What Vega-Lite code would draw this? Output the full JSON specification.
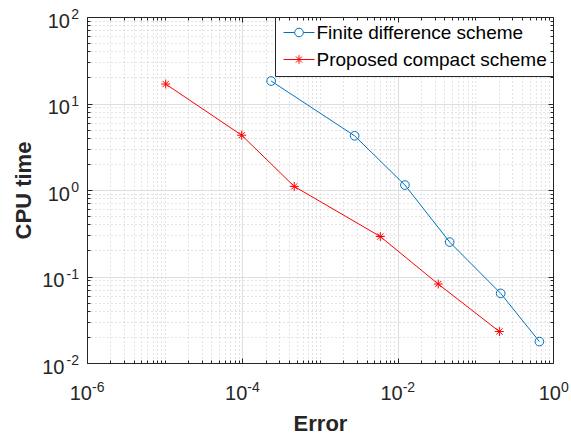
{
  "$schema": "https://vega.github.io/schema/vega-lite/v6.json",
  "autosize": {"type": "none"},
  "padding": {"left": 87, "top": 17, "right": 18, "bottom": 76},
  "width": 466,
  "height": 346,
  "config": {
    "view": {"stroke": null},
    "axis": {"labelFont": "Liberation Sans", "titleFont": "Liberation Sans", "labelColor": "#262626", "titleColor": "#262626", "labelFlush": false, "labelOverlap": false, "labelBound": false, "minExtent": 0, "maxExtent": 400},
    "legend": {"labelFont": "Liberation Sans"}
  },
  "data": {"values": [
    {"scheme": "Finite difference scheme", "error": 0.000235, "cpu": 18.2},
    {"scheme": "Finite difference scheme", "error": 0.00279, "cpu": 4.23},
    {"scheme": "Finite difference scheme", "error": 0.0124, "cpu": 1.14},
    {"scheme": "Finite difference scheme", "error": 0.0467, "cpu": 0.25},
    {"scheme": "Finite difference scheme", "error": 0.212, "cpu": 0.0638},
    {"scheme": "Finite difference scheme", "error": 0.668, "cpu": 0.0177},
    {"scheme": "Proposed compact scheme", "error": 0.0000103, "cpu": 16.8},
    {"scheme": "Proposed compact scheme", "error": 0.000098, "cpu": 4.3},
    {"scheme": "Proposed compact scheme", "error": 0.000466, "cpu": 1.1},
    {"scheme": "Proposed compact scheme", "error": 0.00597, "cpu": 0.29},
    {"scheme": "Proposed compact scheme", "error": 0.0333, "cpu": 0.0818},
    {"scheme": "Proposed compact scheme", "error": 0.204, "cpu": 0.0231}
  ]},
  "resolve": {"axis": {"x": "independent", "y": "independent"}},
  "layer": [
    {
      "mark": {"type": "line", "strokeWidth": 1},
      "encoding": {
        "x": {"field": "error", "type": "quantitative", "scale": {"type": "log", "domain": [0.000001, 1], "nice": false},
          "axis": {"orient": "bottom", "zindex": 0, "title": "Error", "titleFontSize": 22, "titleFontWeight": "bold", "titleBaseline": "alphabetic", "titlePadding": 67,
            "labels": false, "domain": true, "domainColor": "#262626", "domainWidth": 1,
            "values": [0.000001,0.000002,0.000003,0.000004,0.000005,0.000006,0.000007,0.000008,0.000009,0.00001,0.00002,0.00003,0.00004,0.00005,0.00006,0.00007,0.00008,0.00009,0.0001,0.0002,0.0003,0.0004,0.0005,0.0006,0.0007,0.0008,0.0009,0.001,0.002,0.003,0.004,0.005,0.006,0.007,0.008,0.009,0.01,0.02,0.03,0.04,0.05,0.06,0.07,0.08,0.09,0.1,0.2,0.3,0.4,0.5,0.6,0.7,0.8,0.9,1],
            "grid": true, "gridWidth": 1,
            "gridColor": {"condition": {"test": "abs(log(datum.value)/LN10/2 - round(log(datum.value)/LN10/2)) < 0.001", "value": "#dedede"}, "value": "#c9c9c9"},
            "gridDash": {"condition": {"test": "abs(log(datum.value)/LN10/2 - round(log(datum.value)/LN10/2)) < 0.001", "value": []}, "value": [1, 3]},
            "ticks": true, "tickColor": "#262626", "tickWidth": 1,
            "tickSize": {"condition": {"test": "abs(log(datum.value)/LN10/2 - round(log(datum.value)/LN10/2)) < 0.001", "value": -5}, "value": -3}}},
        "y": {"field": "cpu", "type": "quantitative", "scale": {"type": "log", "domain": [0.01, 100], "nice": false},
          "axis": {"orient": "left", "zindex": 0, "title": "CPU time", "titleFontSize": 22, "titleFontWeight": "bold", "titleBaseline": "alphabetic", "titlePadding": 56.5,
            "labels": false, "domain": true, "domainColor": "#262626", "domainWidth": 1,
            "values": [0.01,0.02,0.03,0.04,0.05,0.06,0.07,0.08,0.09,0.1,0.2,0.3,0.4,0.5,0.6,0.7,0.8,0.9,1,2,3,4,5,6,7,8,9,10,20,30,40,50,60,70,80,90,100],
            "grid": true, "gridWidth": 1,
            "gridColor": {"condition": {"test": "abs(log(datum.value)/LN10 - round(log(datum.value)/LN10)) < 0.001", "value": "#dedede"}, "value": "#c9c9c9"},
            "gridDash": {"condition": {"test": "abs(log(datum.value)/LN10 - round(log(datum.value)/LN10)) < 0.001", "value": []}, "value": [1, 3]},
            "ticks": true, "tickColor": "#262626", "tickWidth": 1,
            "tickSize": {"condition": {"test": "abs(log(datum.value)/LN10 - round(log(datum.value)/LN10)) < 0.001", "value": -5}, "value": -3}}},
        "color": {"field": "scheme", "type": "nominal",
          "scale": {"domain": ["Finite difference scheme", "Proposed compact scheme"], "range": ["#0072BD", "#FF0000"]},
          "legend": {"title": null, "orient": "top-right", "offset": 0, "padding": 6, "fillColor": "white", "strokeColor": "#262626", "symbolSize": 100, "symbolOffset": 8.5, "symbolStrokeWidth": 1, "labelFontSize": 19, "labelColor": "#000000", "labelOffset": 8, "labelLimit": 400, "rowPadding": 7,
            "encode": {"symbols": {"update": {"shape": {"signal": "datum.value === 'Finite difference scheme' ? 'M-3.1,0H-0.86M0.86,0H3.1M0.86,0A0.86,0.86,0,1,1,-0.86,0A0.86,0.86,0,1,1,0.86,0' : 'M-3.1,0H3.1M0,-0.86V0.86M-0.61,-0.61L0.61,0.61M-0.61,0.61L0.61,-0.61'"}, "fill": {"value": "transparent"}}}}}}
      }
    },
    {
      "transform": [{"filter": "datum.scheme === 'Finite difference scheme'"}],
      "mark": {"type": "point", "shape": "circle", "filled": false, "strokeWidth": 1, "size": 75, "opacity": 1},
      "encoding": {
        "x": {"field": "error", "type": "quantitative", "scale": {"type": "log", "domain": [0.000001, 1], "nice": false},
          "axis": {"orient": "bottom", "zindex": 1, "title": null, "domain": false, "ticks": false, "grid": false,
            "values": [0.000001, 0.0001, 0.01, 1], "labelExpr": "'10'", "labelFontSize": 20, "labelAlign": "right", "labelBaseline": "alphabetic", "labelPadding": 36,
            "labelOffset": {"condition": {"test": "datum.value > 0.5", "value": 7.5}, "value": 4.5}}},
        "y": {"field": "cpu", "type": "quantitative", "scale": {"type": "log", "domain": [0.01, 100], "nice": false},
          "axis": {"orient": "left", "zindex": 1, "title": null, "domain": false, "ticks": false, "grid": false,
            "values": [0.01, 0.1, 1, 10, 100], "labelExpr": "'10'", "labelFontSize": 20, "labelAlign": "right", "labelBaseline": "alphabetic", "labelOffset": 10,
            "labelPadding": {"condition": {"test": "datum.value < 0.5", "value": 23}, "value": 17.5}}},
        "color": {"field": "scheme", "type": "nominal",
          "scale": {"domain": ["Finite difference scheme", "Proposed compact scheme"], "range": ["#0072BD", "#FF0000"]},
          "legend": {"title": null, "orient": "top-right", "offset": 0, "padding": 6, "fillColor": "white", "strokeColor": "#262626", "symbolSize": 100, "symbolOffset": 8.5, "symbolStrokeWidth": 1, "labelFontSize": 19, "labelColor": "#000000", "labelOffset": 8, "labelLimit": 400, "rowPadding": 7,
            "encode": {"symbols": {"update": {"shape": {"signal": "datum.value === 'Finite difference scheme' ? 'M-3.1,0H-0.86M0.86,0H3.1M0.86,0A0.86,0.86,0,1,1,-0.86,0A0.86,0.86,0,1,1,0.86,0' : 'M-3.1,0H3.1M0,-0.86V0.86M-0.61,-0.61L0.61,0.61M-0.61,0.61L0.61,-0.61'"}, "fill": {"value": "transparent"}}}}}}
      }
    },
    {
      "transform": [{"filter": "datum.scheme === 'Proposed compact scheme'"}],
      "mark": {"type": "point", "shape": "M0,-1V1M-1,0H1M-0.7,-0.7L0.7,0.7M-0.7,0.7L0.7,-0.7", "filled": false, "strokeWidth": 1, "size": 80, "opacity": 1},
      "encoding": {
        "x": {"field": "error", "type": "quantitative", "scale": {"type": "log", "domain": [0.000001, 1], "nice": false}, "axis": null},
        "y": {"field": "cpu", "type": "quantitative", "scale": {"type": "log", "domain": [0.01, 100], "nice": false}, "axis": null},
        "color": {"field": "scheme", "type": "nominal",
          "scale": {"domain": ["Finite difference scheme", "Proposed compact scheme"], "range": ["#0072BD", "#FF0000"]},
          "legend": {"title": null, "orient": "top-right", "offset": 0, "padding": 6, "fillColor": "white", "strokeColor": "#262626", "symbolSize": 100, "symbolOffset": 8.5, "symbolStrokeWidth": 1, "labelFontSize": 19, "labelColor": "#000000", "labelOffset": 8, "labelLimit": 400, "rowPadding": 7,
            "encode": {"symbols": {"update": {"shape": {"signal": "datum.value === 'Finite difference scheme' ? 'M-3.1,0H-0.86M0.86,0H3.1M0.86,0A0.86,0.86,0,1,1,-0.86,0A0.86,0.86,0,1,1,0.86,0' : 'M-3.1,0H3.1M0,-0.86V0.86M-0.61,-0.61L0.61,0.61M-0.61,0.61L0.61,-0.61'"}, "fill": {"value": "transparent"}}}}}}
      }
    },
    {
      "mark": {"type": "point", "opacity": 0},
      "encoding": {
        "x": {"field": "error", "type": "quantitative", "scale": {"type": "log", "domain": [0.000001, 1], "nice": false},
          "axis": {"orient": "bottom", "zindex": 1, "title": null, "domain": false, "ticks": false, "grid": false,
            "values": [0.000001, 0.0001, 0.01, 1], "labelExpr": "'' + round(log(datum.value)/LN10)", "labelFontSize": 14, "labelAlign": "left", "labelBaseline": "alphabetic", "labelPadding": 28,
            "labelOffset": {"condition": {"test": "datum.value > 0.5", "value": 7.5}, "value": 4.5}}},
        "y": {"field": "cpu", "type": "quantitative", "scale": {"type": "log", "domain": [0.01, 100], "nice": false},
          "axis": {"orient": "left", "zindex": 1, "title": null, "domain": false, "ticks": false, "grid": false,
            "values": [0.01, 0.1, 1, 10, 100], "labelExpr": "'' + round(log(datum.value)/LN10)", "labelFontSize": 14, "labelAlign": "right", "labelBaseline": "alphabetic", "labelOffset": 1.5, "labelPadding": 8.5}}
      }
    },
    {
      "mark": {"type": "point", "opacity": 0},
      "encoding": {
        "x": {"field": "error", "type": "quantitative", "scale": {"type": "log", "domain": [0.000001, 1], "nice": false},
          "axis": {"orient": "top", "zindex": 1, "title": null, "labels": false, "grid": false, "domain": true, "domainColor": "#262626", "domainWidth": 1,
            "values": [0.000001,0.000002,0.000003,0.000004,0.000005,0.000006,0.000007,0.000008,0.000009,0.00001,0.00002,0.00003,0.00004,0.00005,0.00006,0.00007,0.00008,0.00009,0.0001,0.0002,0.0003,0.0004,0.0005,0.0006,0.0007,0.0008,0.0009,0.001,0.002,0.003,0.004,0.005,0.006,0.007,0.008,0.009,0.01,0.02,0.03,0.04,0.05,0.06,0.07,0.08,0.09,0.1,0.2,0.3,0.4,0.5,0.6,0.7,0.8,0.9,1],
            "ticks": true, "tickColor": "#262626", "tickWidth": 1,
            "tickSize": {"condition": {"test": "abs(log(datum.value)/LN10/2 - round(log(datum.value)/LN10/2)) < 0.001", "value": -5}, "value": -3}}},
        "y": {"field": "cpu", "type": "quantitative", "scale": {"type": "log", "domain": [0.01, 100], "nice": false},
          "axis": {"orient": "right", "zindex": 1, "title": null, "labels": false, "grid": false, "domain": true, "domainColor": "#262626", "domainWidth": 1,
            "values": [0.01,0.02,0.03,0.04,0.05,0.06,0.07,0.08,0.09,0.1,0.2,0.3,0.4,0.5,0.6,0.7,0.8,0.9,1,2,3,4,5,6,7,8,9,10,20,30,40,50,60,70,80,90,100],
            "ticks": true, "tickColor": "#262626", "tickWidth": 1,
            "tickSize": {"condition": {"test": "abs(log(datum.value)/LN10 - round(log(datum.value)/LN10)) < 0.001", "value": -5}, "value": -3}}}
      }
    }
  ]
}
